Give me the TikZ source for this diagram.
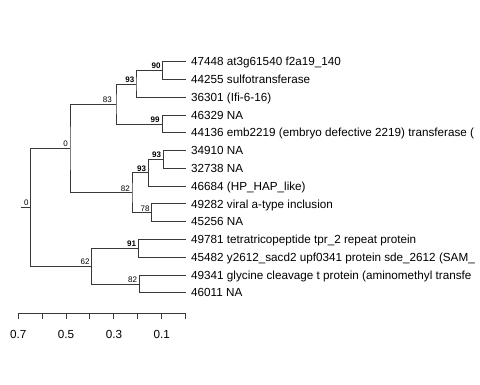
\documentclass[tikz,border=0pt]{standalone}
\usepackage{fontspec}
\setmainfont{Liberation Sans}
\begin{document}
\begin{tikzpicture}[x=1pt,y=-1pt,
  br/.style={draw=black!78, line width=0.8pt},
  leaf/.style={anchor=west, inner sep=0pt, text height=8.4pt, text depth=0pt, font=\fontsize{11.7}{13}\selectfont},
  bs/.style={anchor=south east, inner sep=0pt, font=\fontsize{8}{9}\selectfont},
  bsb/.style={anchor=south east, inner sep=0pt, font=\fontsize{8}{9}\selectfont\bfseries},
  axl/.style={anchor=center, inner sep=0pt, text height=8.4pt, text depth=0pt, font=\fontsize{11.7}{13}\selectfont}]
\useasboundingbox (0,0) rectangle (480,384);
\clip (0,0) rectangle (480,384);
% leaf tips and labels
\foreach \i/\t in {0/{47448 at3g61540 f2a19\_140},1/{44255 sulfotransferase},2/{36301 (Ifi-6-16)},3/{46329 NA},4/{44136 emb2219 (embryo defective 2219) transferase (},5/{34910 NA},6/{32738 NA},7/{46684 (HP\_HAP\_like)},8/{49282 viral a-type inclusion},9/{45256 NA},10/{49781 tetratricopeptide tpr\_2 repeat protein},11/{45482 y2612\_sacd2 upf0341 protein sde\_2612 (SAM\_},12/{49341 glycine cleavage t protein (aminomethyl transfe},13/{46011 NA}}{
  \coordinate (t\i) at (185.5,{61.7+17.77*\i});
  \node[leaf] (l\i) at (191,{61.7+17.77*\i}) {\t};
}
% internal nodes
\coordinate (n90) at (162.7,70.6);
\coordinate (n93a) at (136,84.0);
\coordinate (n99) at (162.7,123.9);
\coordinate (n83) at (116,103.9);
\coordinate (n93c) at (163.3,159.5);
\coordinate (n93b) at (148.3,172.8);
\coordinate (n78) at (151.7,212.8);
\coordinate (n82a) at (132,192.8);
\coordinate (n0) at (70,148.3);
\coordinate (n91) at (138.3,248.3);
\coordinate (n82b) at (139.3,283.9);
\coordinate (n62) at (91.7,266.1);
\coordinate (root) at (30.7,207.2);
\coordinate (stub) at (20.7,207.2);
% branches
\draw[br] (t0) -| (n90) |- (t1);
\draw[br] (n90) -| (n93a) |- (t2);
\draw[br] (t3) -| (n99) |- (t4);
\draw[br] (n93a) -| (n83) |- (n99);
\draw[br] (t5) -| (n93c) |- (t6);
\draw[br] (n93c) -| (n93b) |- (t7);
\draw[br] (t8) -| (n78) |- (t9);
\draw[br] (n93b) -| (n82a) |- (n78);
\draw[br] (n83) -| (n0) |- (n82a);
\draw[br] (t10) -| (n91) |- (t11);
\draw[br] (t12) -| (n82b) |- (t13);
\draw[br] (n91) -| (n62) |- (n82b);
\draw[br] (n0) -| (root) |- (n62);
\draw[br] (stub) -- (root);
% support labels
\node[bsb] (s90) at ([xshift=-2pt,yshift=1.5pt]n90) {90};
\node[bsb] (s93a) at ([xshift=-1.5pt,yshift=1.5pt]n93a) {93};
\node[bsb] (s99) at ([xshift=-3pt,yshift=1.5pt]n99) {99};
\node[bs] (s83) at ([xshift=-4pt,yshift=1.5pt]n83) {83};
\node[bsb] (s93c) at ([xshift=-2pt,yshift=1.5pt]n93c) {93};
\node[bsb] (s93b) at ([xshift=-2pt,yshift=1.5pt]n93b) {93};
\node[bs] (s78) at ([xshift=-2pt,yshift=1.5pt]n78) {78};
\node[bs] (s82a) at ([xshift=-2pt,yshift=1.5pt]n82a) {82};
\node[bs] (s0) at ([xshift=-2pt,yshift=1.8pt]n0) {0};
\node[bsb] (s91) at ([xshift=-2pt,yshift=1.5pt]n91) {91};
\node[bs] (s82b) at ([xshift=-2pt,yshift=1.5pt]n82b) {82};
\node[bs] (s62) at ([xshift=-2pt,yshift=1.5pt]n62) {62};
\node[bs] (sroot) at ([xshift=-2pt,yshift=1.8pt]root) {0};
% axis
\coordinate (a0) at (185.3,313.3);
\coordinate (a7) at (18.3,313.3);
\draw[br] (a7) -- (a0);
\foreach \i in {0,...,7}{
  \draw[br] (185.3-23.857*\i,313.3) -- (185.3-23.857*\i,318.5);
}
\node[axl] (x7) at (18.3,334.3) {0.7};
\node[axl] (x5) at (66,334.3) {0.5};
\node[axl] (x3) at (114,334.3) {0.3};
\node[axl] (x1) at (161.7,334.3) {0.1};
\end{tikzpicture}
\end{document}
